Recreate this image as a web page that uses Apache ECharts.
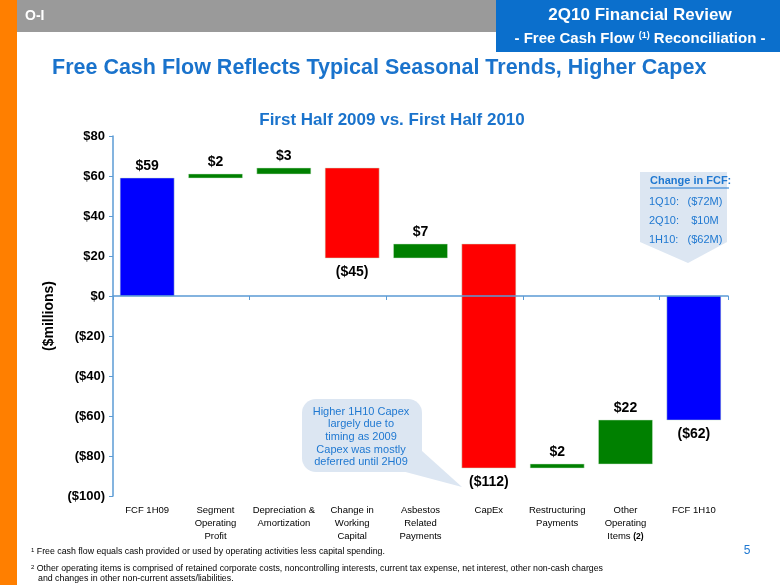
<!DOCTYPE html>
<html><head><meta charset="utf-8">
<script src="https://cdn.jsdelivr.net/npm/echarts@6/dist/echarts.min.js"></script>
<style>html,body{margin:0;padding:0;background:#fff}#c{width:780px;height:585px}</style>
</head><body><div id="c"></div>
<script>
const categories = ['FCF 1H09', 'Segment\nOperating\nProfit', 'Depreciation &\nAmortization', 'Change in\nWorking\nCapital', 'Asbestos\nRelated\nPayments', 'CapEx', 'Restructuring\nPayments', 'Other\nOperating\nItems (2)', 'FCF 1H10'];
const changes = [59, 2, 3, -45, 7, -112, 2, 22, -62];
const isTotal = [true, false, false, false, false, false, false, false, true];
const yMin = -100, yMax = 80, yStep = 20;
const fcfChangeRows = [['1Q10:', '($72M)'], ['2Q10:', '$10M'], ['1H10:', '($62M)']];
const bubbleText = 'Higher 1H10 Capex\nlargely due to\ntiming as 2009\nCapex was mostly\ndeferred until 2H09';

const money = v => v < 0 ? '($' + (-v) + ')' : '$' + v;

// waterfall segments
const segs = [];
let running = 0;
changes.forEach((v, i) => {
  let s, e;
  if (isTotal[i]) { s = 0; e = v; running = v; }
  else { s = running; e = running + v; running = e; }
  segs.push([i, s, e, v, isTotal[i] ? 1 : 0]);
});

const FONT = 'Liberation Sans, Arial, sans-serif';
const AXIS_BLUE = '#5B9BD5';
const TXT_BLUE = '#1F78D1';

const chart = echarts.init(document.getElementById('c'), null, {renderer: 'canvas'});
chart.setOption({
  animation: false,
  backgroundColor: '#fff',
  grid: {left: 113, right: 52, top: 136, bottom: 89, containLabel: false},
  xAxis: [{
    type: 'category', data: categories, position: 'bottom', z: 5,
    axisLine: {onZero: true, lineStyle: {color: AXIS_BLUE, width: 1.5}},
    axisTick: {show: true, length: 4, lineStyle: {color: AXIS_BLUE, width: 1}},
    axisLabel: {show: false}, splitLine: {show: false}
  }, {
    type: 'category', data: categories, position: 'bottom',
    axisLine: {show: false, onZero: false}, axisTick: {show: false}, splitLine: {show: false},
    axisLabel: {
      show: true, interval: 0, margin: 8, color: '#000', fontFamily: FONT, fontSize: 9.5, lineHeight: 13,
      formatter: v => v.replace('(2)', '{s|(2)}'),
      rich: {s: {fontSize: 8.5, fontWeight: 'bold', fontFamily: FONT, color: '#000'}}
    }
  }],
  yAxis: {
    type: 'value', min: yMin, max: yMax, interval: yStep,
    name: '($millions)', nameLocation: 'middle', nameGap: 50, nameRotate: 90,
    nameTextStyle: {color: '#000', fontFamily: FONT, fontSize: 14, fontWeight: 'bold'},
    axisLine: {show: true, lineStyle: {color: AXIS_BLUE, width: 1.5}},
    axisTick: {show: true, length: 4, lineStyle: {color: AXIS_BLUE}},
    splitLine: {show: false},
    axisLabel: {color: '#000', fontFamily: FONT, fontSize: 13, fontWeight: 'bold', margin: 8, formatter: v => money(v)}
  },
  series: [{
    type: 'custom', xAxisIndex: 0, yAxisIndex: 0, z: 2,
    data: segs,
    renderItem: function (params, api) {
      const x = api.value(0), s = api.value(1), e = api.value(2), v = api.value(3), tot = api.value(4);
      const hi = Math.max(s, e), lo = Math.min(s, e);
      const pTop = api.coord([x, hi]), pBot = api.coord([x, lo]);
      const w = api.size([1, 0])[0] * 0.79;
      const color = tot ? '#0000FF' : (v >= 0 ? '#008000' : '#FF0000');
      const lbl = v >= 0
        ? {type: 'text', x: pTop[0], y: pTop[1] - 5, style: {text: money(v), fill: '#000', font: 'bold 14px ' + FONT, align: 'center', verticalAlign: 'bottom'}}
        : {type: 'text', x: pBot[0], y: pBot[1] + 7, style: {text: money(v), fill: '#000', font: 'bold 14px ' + FONT, align: 'center', verticalAlign: 'top'}};
      return {type: 'group', children: [
        {type: 'rect', shape: {x: pTop[0] - w / 2, y: pTop[1], width: w, height: Math.max(pBot[1] - pTop[1], 1)},
         style: {fill: color, stroke: 'rgba(200,230,200,0.6)', lineWidth: 0.8}},
        lbl
      ]};
    }
  }],
  graphic: [
    {type: 'rect', shape: {x: 0, y: 0, width: 17, height: 585}, style: {fill: '#FF7F00'}, silent: true},
    {type: 'rect', shape: {x: 17, y: 0, width: 480, height: 32}, style: {fill: '#9A9A9A'}, silent: true},
    {type: 'text', x: 25, y: 16, style: {text: 'O-I', fill: '#fff', font: 'bold 14px ' + FONT, verticalAlign: 'middle'}},
    {type: 'rect', shape: {x: 496, y: 0, width: 284, height: 52}, style: {fill: '#0B6FCC'}, silent: true},
    {type: 'text', x: 640, y: 15, style: {text: '2Q10 Financial Review', fill: '#fff', font: 'bold 17px ' + FONT, align: 'center', verticalAlign: 'middle'}},
    {type: 'text', x: 640, y: 39, style: {
      text: '{t|- Free Cash Flow }{s|(1)}{t| Reconciliation -}', align: 'center', verticalAlign: 'middle',
      rich: {t: {fill: '#fff', fontFamily: FONT, fontWeight: 'bold', fontSize: 15},
             s: {fill: '#fff', fontFamily: FONT, fontWeight: 'bold', fontSize: 9, padding: [0, 0, 7, 0]}}
    }},
    {type: 'text', x: 52, y: 68, style: {text: 'Free Cash Flow Reflects Typical Seasonal Trends, Higher Capex', fill: '#1A73CC', font: 'bold 21.5px ' + FONT, verticalAlign: 'middle'}},
    {type: 'text', x: 392, y: 120, style: {text: 'First Half 2009 vs. First Half 2010', fill: '#1A73CC', font: 'bold 17px ' + FONT, align: 'center', verticalAlign: 'middle'}},
    // right callout
    {type: 'polygon', shape: {points: [[640, 172], [727, 172], [727, 242], [688, 263], [640, 242]]}, style: {fill: '#DCE6F2'}},
    {type: 'text', x: 650, y: 181, style: {text: 'Change in FCF:', fill: TXT_BLUE, font: 'bold 11px ' + FONT, verticalAlign: 'middle'}},
    {type: 'line', shape: {x1: 650, y1: 188, x2: 729, y2: 188}, style: {stroke: TXT_BLUE, lineWidth: 1}},
    ...fcfChangeRows.flatMap((r, i) => [
      {type: 'text', x: 649, y: 202 + i * 19, style: {text: r[0], fill: TXT_BLUE, font: '11px ' + FONT, verticalAlign: 'middle'}},
      {type: 'text', x: 705, y: 202 + i * 19, style: {text: r[1], fill: TXT_BLUE, font: '11px ' + FONT, align: 'center', verticalAlign: 'middle'}}
    ]),
    // left bubble
    {type: 'polygon', shape: {points: [[412, 442], [462, 487], [398, 470]]}, style: {fill: '#DCE6F2'}},
    {type: 'rect', shape: {x: 302, y: 399, width: 120, height: 73, r: 14}, style: {fill: '#DCE6F2'}},
    {type: 'text', x: 361, y: 437, style: {text: bubbleText, fill: TXT_BLUE, font: '11px ' + FONT, lineHeight: 12.6, align: 'center', verticalAlign: 'middle'}},
    // footnotes
    {type: 'text', x: 31, y: 552, style: {text: '{s|1} Free cash flow equals cash provided or used by operating activities less capital spending.', verticalAlign: 'middle',
      rich: {s: {fontSize: 6, fontFamily: FONT, fill: '#000', padding: [0, 0, 4, 0]}}, fill: '#000', font: '8.8px ' + FONT}},
    {type: 'text', x: 31, y: 569, style: {text: '{s|2} Other operating items is comprised of retained corporate costs, noncontrolling interests, current tax expense, net interest, other non-cash charges', verticalAlign: 'middle',
      rich: {s: {fontSize: 6, fontFamily: FONT, fill: '#000', padding: [0, 0, 4, 0]}}, fill: '#000', font: '8.8px ' + FONT}},
    {type: 'text', x: 38, y: 579, style: {text: 'and changes in other non-current assets/liabilities.', fill: '#000', font: '8.8px ' + FONT, verticalAlign: 'middle'}},
    {type: 'text', x: 747, y: 551, style: {text: '5', fill: TXT_BLUE, font: '12px ' + FONT, align: 'center', verticalAlign: 'middle'}}
  ]
});
</script></body></html>
